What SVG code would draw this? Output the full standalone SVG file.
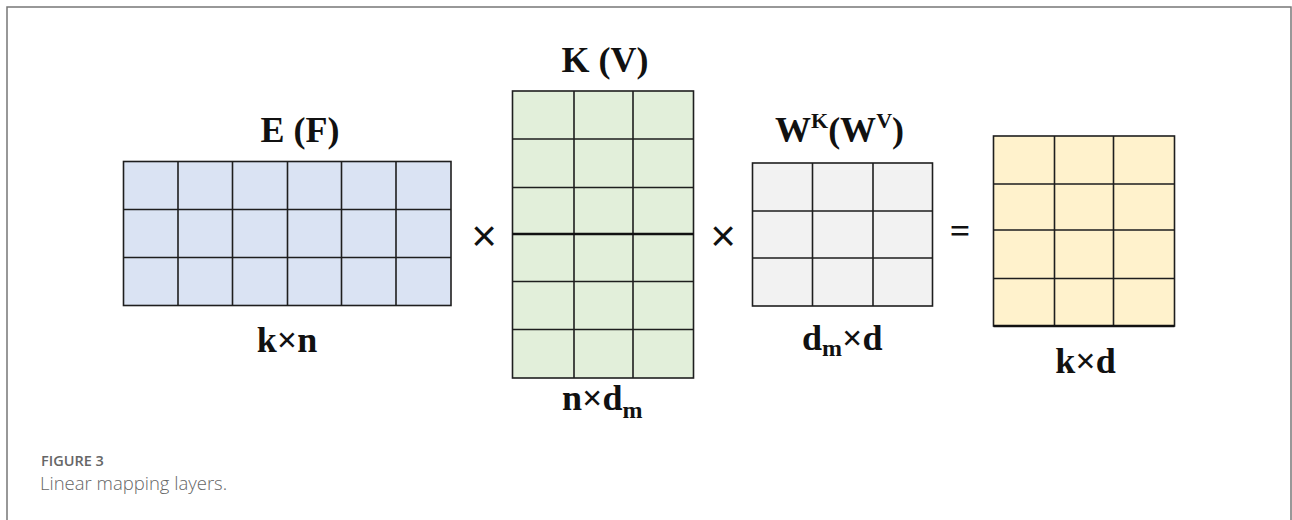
<svg xmlns="http://www.w3.org/2000/svg" width="1292" height="520" viewBox="0 0 1292 520">
<style>
.g{stroke:#1e1e1e;stroke-width:1.6;}
.lbl{font-family:"Liberation Serif",serif;font-weight:bold;font-size:36px;fill:#111;}
.op{font-family:"Liberation Sans",sans-serif;font-size:44px;fill:#111;}
.cap1{font-family:"Open Sans",sans-serif;font-size:14.5px;fill:#666;font-weight:600;}
.cap2{font-family:"Open Sans",sans-serif;font-size:18.5px;fill:#666;font-weight:300;}
</style>
<rect x="0" y="0" width="1292" height="520" fill="#fff"/>
<path d="M7,530 V7 H1291 V530" fill="none" stroke="#777" stroke-width="1.5"/>
<g id="E">
<rect x="123.5" y="161.5" width="327.5" height="144" fill="#dae3f3" class="g"/>
<path class="g" d="M178,161.5V305.5M232.5,161.5V305.5M287.5,161.5V305.5M341.5,161.5V305.5M396,161.5V305.5M123.5,209.5H451M123.5,257.5H451"/>
<text class="lbl" x="300" y="142" text-anchor="middle">E (F)</text>
<text class="lbl" x="287" y="352" text-anchor="middle">k×n</text>
</g>
<g id="K">
<rect x="512.5" y="91" width="181" height="287" fill="#e2efda" class="g"/>
<path class="g" d="M574,91V378M633,91V378M512.5,139H693.5M512.5,187.5H693.5M512.5,281.5H693.5M512.5,329.5H693.5"/>
<path d="M512.5,234H693.5" stroke="#111" stroke-width="2.6"/>
<text class="lbl" x="605" y="72" text-anchor="middle">K (V)</text>
<text class="lbl" x="562" y="410">n×d<tspan font-size="24" dy="8">m</tspan></text>
</g>
<g id="W">
<rect x="752.5" y="163" width="180" height="143" fill="#f2f2f2" class="g"/>
<path class="g" d="M812.5,163V306M873,163V306M752.5,211H932.5M752.5,258H932.5"/>
<text class="lbl" x="775" y="142">W<tspan font-size="22" dy="-14">K</tspan><tspan dy="14">(W</tspan><tspan font-size="22" dy="-14">V</tspan><tspan dy="14">)</tspan></text>
<text class="lbl" x="802" y="350">d<tspan font-size="24" dy="6">m</tspan><tspan dy="-6">×d</tspan></text>
</g>
<g id="R">
<rect x="993.5" y="136" width="181" height="190" fill="#fff2cc" class="g"/>
<path class="g" d="M1054.5,136V326M1113.5,136V326M993.5,184H1174.5M993.5,230H1174.5M993.5,278.5H1174.5"/>
<path d="M993.5,326H1174.5" stroke="#111" stroke-width="2.6"/>
<text class="lbl" x="1085.5" y="373" text-anchor="middle">k×d</text>
</g>
<g id="connectors">
<text class="op" x="484" y="251" text-anchor="middle">×</text>
<text class="op" x="723" y="251" text-anchor="middle">×</text>
<text class="lbl" x="960" y="243" text-anchor="middle">=</text>
</g>
<text class="cap1" x="41" y="466">FIGURE 3</text>
<text class="cap2" x="40" y="490">Linear mapping layers.</text>
</svg>
